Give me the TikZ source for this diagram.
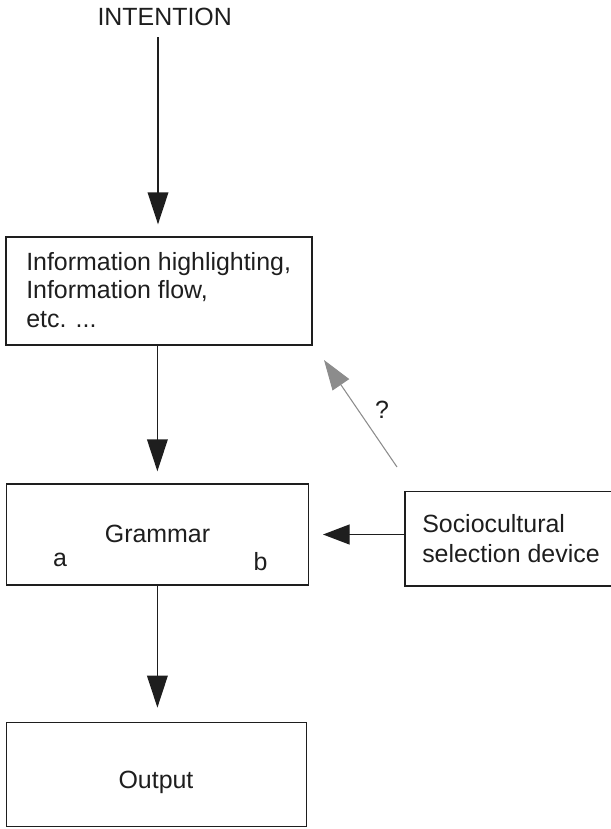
\documentclass[tikz,border=0pt]{standalone}
\usepackage{fontspec}
\setmainfont{Liberation Sans}
\usetikzlibrary{arrows.meta}
\definecolor{qgray}{RGB}{140,140,140}
\definecolor{ink}{RGB}{30,30,30}
\begin{document}
\begin{tikzpicture}[x=0.75pt,y=-0.75pt,
  box/.style={draw=ink, line width=1pt, inner sep=0pt},
  lbl/.style={inner sep=0pt, text=ink, font=\fontsize{18.7}{21.4}\selectfont},
  flow/.style={draw=ink, line width=1pt, -{Triangle[length=24pt,width=15.5pt]}},
  sideflow/.style={draw=ink, line width=1pt, -{Triangle[length=20pt,width=15pt]}},
  query/.style={draw=qgray, line width=0.8pt, -{Triangle[length=22.5pt,width=15pt]}}]
\useasboundingbox (0,0) rectangle (611,829);

% boxes
\node[box, minimum width=229.5pt, minimum height=81pt] (box1) at (159,291) {};
\node[box, minimum width=226.4pt, minimum height=75.75pt] (grammar) at (157.4,534.5) {};
\node[box, minimum width=224.9pt, minimum height=78.3pt] (output) at (156.4,774.5) {};
\node[box, minimum width=157.5pt, minimum height=70.7pt] (socio) at (510,538.9) {};

% texts
\node[lbl, anchor=base] (intention) at (164.7,25) {INTENTION};
\node[lbl, anchor=base west] (info1) at (26,270) {Information highlighting,};
\node[lbl, anchor=base west] (info2) at (26,298.5) {Information flow,};
\node[lbl, anchor=base west] (info3) at (26,327) {etc. ...};
\node[lbl, anchor=base] (gtext) at (157.5,542) {Grammar};
\node[lbl, anchor=base] (ga) at (60,566) {a};
\node[lbl, anchor=base] (gb) at (260.5,570.7) {b};
\node[lbl, anchor=base] (otext) at (156,788) {Output};
\node[lbl, anchor=base west] (socio1) at (422,532) {Sociocultural};
\node[lbl, anchor=base west] (socio2) at (422,562) {selection device};
\node[lbl, anchor=base] (qmark) at (382,418) {?};

% connectors
\coordinate (start) at (158,37);
\draw[flow, shorten >=9pt] (start) -- (start |- box1.north);
\draw[flow, shorten >=9pt] (box1.south -| grammar.north) -- (grammar.north);
\draw[flow, shorten >=10.5pt] (grammar.south) -- (grammar.south |- output.north);
\draw[sideflow, shorten >=10.5pt] (socio.west |- grammar.east) -- (grammar.east);
\coordinate (qfrom) at (397,467);
\coordinate (qto) at (324,360);
\draw[query] (qfrom) -- (qto);
\end{tikzpicture}
\end{document}
